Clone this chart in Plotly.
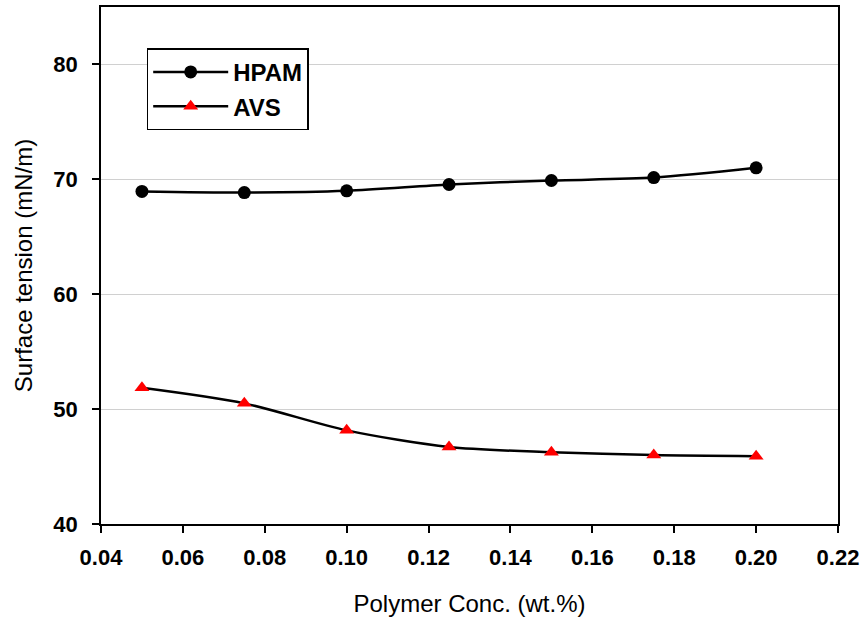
import plotly.graph_objects as go

conc = [0.05, 0.075, 0.10, 0.125, 0.15, 0.175, 0.20]
hpam = [68.95, 68.85, 69.0, 69.55, 69.9, 70.15, 71.0]
avs = [51.85, 50.5, 48.15, 46.7, 46.25, 46.0, 45.9]

x_ticks = [0.04, 0.06, 0.08, 0.10, 0.12, 0.14, 0.16, 0.18, 0.20, 0.22]
y_ticks = [40, 50, 60, 70, 80]

fig = go.Figure()
fig.add_trace(go.Scatter(x=conc, y=hpam, name="HPAM", mode="lines+markers",
                         line=dict(color="black", width=2.5, shape="spline", smoothing=0.8),
                         marker=dict(symbol="circle", size=13, color="black")))
fig.add_trace(go.Scatter(x=conc, y=avs, name="AVS", mode="lines+markers",
                         line=dict(color="black", width=2.5, shape="spline", smoothing=0.8),
                         marker=dict(symbol="triangle-up", size=13, color="red")))

fig.update_layout(
    width=867, height=626,
    margin=dict(l=101, r=29, t=7, b=102),
    plot_bgcolor="white", paper_bgcolor="white",
    font=dict(family="Liberation Sans, Arial, sans-serif", color="black"),
    showlegend=True,
    legend=dict(x=0.062, y=0.92, xanchor="left", yanchor="top",
                bordercolor="black", borderwidth=1.5, bgcolor="white",
                font=dict(size=24, family="Liberation Sans, Arial", weight="bold"),
                itemwidth=75, tracegroupgap=0),
)
fig.update_xaxes(range=[0.04, 0.22], tickvals=x_ticks,
                 ticktext=[f"{v:.2f}" for v in x_ticks],
                 showgrid=False, zeroline=False, automargin=False,
                 showline=True, linecolor="black", linewidth=1.5, mirror=True,
                 ticks="outside", ticklen=7, tickcolor="black", tickwidth=1.5,
                 ticklabelstandoff=6,
                 tickfont=dict(size=22, weight="bold"),
                 title=dict(text="Polymer Conc. (wt.%)", font=dict(size=24), standoff=26))
fig.update_yaxes(range=[40, 85], tickvals=y_ticks,
                 showgrid=True, gridcolor="#d0d0d0", gridwidth=1, zeroline=False,
                 automargin=False,
                 showline=True, linecolor="black", linewidth=1.5, mirror=True,
                 ticks="outside", ticklen=7, tickcolor="black", tickwidth=1.5,
                 ticklabelstandoff=10,
                 tickfont=dict(size=22, weight="bold"),
                 title=dict(text="Surface tension (mN/m)", font=dict(size=24), standoff=14))

fig.write_html("out.html")
